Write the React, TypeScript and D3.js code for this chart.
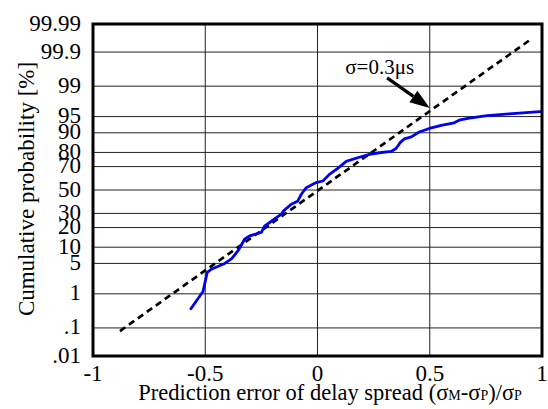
import React from "react";
import * as d3 from "d3";

// ---- data ----
const xTicks = [-1, -0.5, 0, 0.5, 1];
const xTickLabels = ["-1", "-0.5", "0", "0.5", "1"];
const yTicks = [0.01, 0.1, 1, 5, 10, 20, 30, 50, 70, 80, 90, 95, 99, 99.9, 99.99];
const yTickLabels = [".01", ".1", "1", "5", "10", "20", "30", "50", "70", "80", "90", "95", "99", "99.9", "99.99"];

// measured prediction error (blue)
const errX = [-0.564, -0.51, -0.491, -0.471, -0.413, -0.382, -0.354, -0.324, -0.302, -0.25, -0.236, -0.199, -0.161, -0.151, -0.117, -0.089, -0.072, -0.05, -0.006, 0.024, 0.053, 0.09, 0.128, 0.179, 0.231, 0.276, 0.328, 0.35, 0.369, 0.387, 0.418, 0.453, 0.498, 0.556, 0.609, 0.631, 0.676, 0.756, 0.853, 0.991];
const cumP = [0.39, 1.15, 3.26, 3.84, 5.0, 6.2, 8.7, 13.6, 15.2, 17.1, 20.9, 24.9, 29.4, 32.0, 37.5, 40.0, 46.2, 52.1, 56.6, 58.0, 63.7, 68.6, 73.9, 76.5, 78.7, 79.8, 80.6, 82.4, 85.7, 87.4, 88.3, 90.3, 91.6, 92.7, 93.4, 94.1, 94.65, 95.2, 95.6, 96.05];

// normal reference line (dashed)
const refX = [-0.88, 0.95];
const refP = [0.079, 99.963];

// annotation (data coords)
const annText = "σ=0.3μs";
const annTextPos = [0.277, 99.53];
const annTail = [0.31, 99.4];
const annTip = [0.5, 96.7];

// ---- probit ----
function probit(p: number): number {
  const a = [-3.969683028665376e1, 2.209460984245205e2, -2.759285104469687e2, 1.38357751867269e2, -3.066479806614716e1, 2.506628277459239];
  const b = [-5.447609879822406e1, 1.615858368580409e2, -1.556989798598866e2, 6.680131188771972e1, -1.328068155288572e1];
  const c = [-7.784894002430293e-3, -3.223964580411365e-1, -2.400758277161838, -2.549732539343734, 4.374664141464968, 2.938163982698783];
  const d = [7.784695709041462e-3, 3.224671290700398e-1, 2.445134137142996, 3.754408661907416];
  const pl = 0.02425;
  if (p < pl) {
    const q = Math.sqrt(-2 * Math.log(p));
    return (((((c[0] * q + c[1]) * q + c[2]) * q + c[3]) * q + c[4]) * q + c[5]) / ((((d[0] * q + d[1]) * q + d[2]) * q + d[3]) * q + 1);
  }
  if (p > 1 - pl) {
    const q = Math.sqrt(-2 * Math.log(1 - p));
    return -(((((c[0] * q + c[1]) * q + c[2]) * q + c[3]) * q + c[4]) * q + c[5]) / ((((d[0] * q + d[1]) * q + d[2]) * q + d[3]) * q + 1);
  }
  const q = p - 0.5;
  const r = q * q;
  return ((((((a[0] * r + a[1]) * r + a[2]) * r + a[3]) * r + a[4]) * r + a[5]) * q) / (((((b[0] * r + b[1]) * r + b[2]) * r + b[3]) * r + b[4]) * r + 1);
}

const W = 548;
const H = 409;
const L = 93, R = 542, T = 24, B = 356;
const FONT = "Liberation Serif";

export default function App() {
  const x = d3.scaleLinear().domain([-1, 1]).range([L, R]);
  const zMax = probit(0.9999);
  const zs = d3.scaleLinear().domain([-zMax, zMax]).range([B, T]);
  const y = (pct: number) => zs(probit(pct / 100));

  const line = d3.line<[number, number]>().x((d) => x(d[0])).y((d) => y(d[1]));
  const blue = line(errX.map((v, i) => [v, cumP[i]] as [number, number])) || "";
  const ref = line(refX.map((v, i) => [v, refP[i]] as [number, number])) || "";

  const tx = x(annTip[0]), ty = y(annTip[1]);
  const sx = x(annTail[0]), sy = y(annTail[1]);
  const ang = Math.atan2(ty - sy, tx - sx);
  const hl = 20, hw = 7;
  const bx = tx - hl * Math.cos(ang), by = ty - hl * Math.sin(ang);
  const head = [
    [tx, ty],
    [bx + hw * Math.sin(ang), by - hw * Math.cos(ang)],
    [bx - hw * Math.sin(ang), by + hw * Math.cos(ang)],
  ].map((p) => p.join(",")).join(" ");

  const ts = { fontFamily: FONT };

  return (
    <svg width={W} height={H} style={{ display: "block", position: "absolute", left: 0, top: 0 }}>
      <rect x={0} y={0} width={W} height={H} fill="#fff" />
      <defs>
        <clipPath id="plot">
          <rect x={L} y={T} width={R - L} height={B - T} />
        </clipPath>
      </defs>
      {/* grid */}
      {yTicks.map((t) => (
        <line key={"gy" + t} x1={L} x2={R} y1={y(t)} y2={y(t)} stroke="#222" strokeWidth={1} />
      ))}
      {xTicks.map((t) => (
        <line key={"gx" + t} x1={x(t)} x2={x(t)} y1={T} y2={B} stroke="#222" strokeWidth={1} />
      ))}
      <g clipPath="url(#plot)">
        <path d={ref} fill="none" stroke="#000" strokeWidth={2.7} strokeDasharray="6.5,4.5" />
        <path d={blue} fill="none" stroke="#0000f0" strokeWidth={2.8} strokeLinejoin="round" strokeLinecap="round" />
      </g>
      {/* frame */}
      <rect x={L} y={T} width={R - L} height={B - T} fill="none" stroke="#000" strokeWidth={3} />
      {/* y tick labels */}
      {yTicks.map((t, i) => (
        <text key={"ly" + t} style={ts} x={81} y={y(t) - 1.5} dy="0.35em" textAnchor="end" fontSize={23}>
          {yTickLabels[i]}
        </text>
      ))}
      {/* x tick labels */}
      {xTicks.map((t, i) => (
        <text key={"lx" + t} style={ts} x={x(t)} y={381} textAnchor="middle" fontSize={23}>
          {xTickLabels[i]}
        </text>
      ))}
      {/* axis titles */}
      <text style={ts} x={330} y={400} textAnchor="middle" fontSize={22.5}>
        Prediction error of delay spread (σ<tspan fontSize={14}>M</tspan>-σ<tspan fontSize={14}>P</tspan>)/σ<tspan fontSize={14}>P</tspan>
      </text>
      <text style={ts} transform="translate(34,189) rotate(-90)" textAnchor="middle" fontSize={23}>
        Cumulative probability [%]
      </text>
      {/* annotation */}
      <text style={ts} x={x(annTextPos[0])} y={y(annTextPos[1])} textAnchor="middle" fontSize={21}>
        {annText}
      </text>
      <line x1={sx} y1={sy} x2={bx} y2={by} stroke="#000" strokeWidth={3.2} />
      <polygon points={head} fill="#000" />
    </svg>
  );
}
